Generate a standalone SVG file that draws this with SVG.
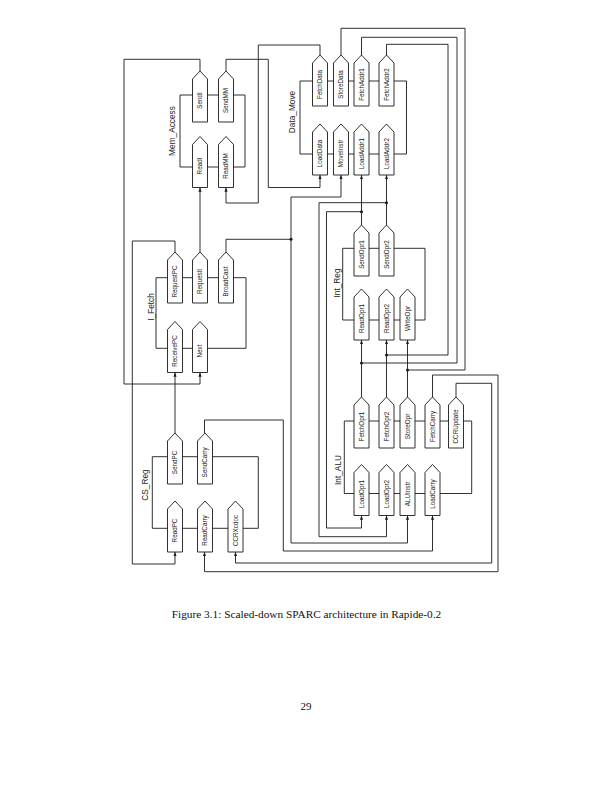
<svg xmlns="http://www.w3.org/2000/svg" xmlns:xlink="http://www.w3.org/1999/xlink" width="612" height="791" viewBox="0 0 612 791">
<defs>
<style>
.br{fill:none;stroke:#1a1a1a;stroke-width:0.9}
.pt{fill:#fff;stroke:#1a1a1a;stroke-width:0.9}
.pl{font-family:"Liberation Sans",Arial,sans-serif;font-size:6.3px;fill:#1a1a1a;text-anchor:middle}
.gl{font-family:"Liberation Sans",Arial,sans-serif;font-size:8.3px;fill:#1a1a1a;text-anchor:middle}
.cn{fill:none;stroke:#1a1a1a;stroke-width:0.9}
.ar{marker-end:url(#ah)}
.dot{fill:#1a1a1a}
.cap{font-family:"Liberation Serif","Times New Roman",serif;fill:#111;text-anchor:middle}
</style>
<path id="pt" d="M0,8 L7.5,0 L15,8 V51 H0 Z"/>
<marker id="ah" viewBox="0 0 8 6" markerWidth="4.2" markerHeight="3.6" refX="8" refY="3" orient="auto" markerUnits="userSpaceOnUse">
<path d="M0,0 L8,3 L0,6 Z" fill="#1a1a1a"/>
</marker>
</defs>
<rect width="612" height="791" fill="#fff"/>

<g id="connectors">
<polyline class="cn ar" points="200,71 200,59.3 124,59.3 124,384 200,384 200,372.5"/>
<polyline class="cn ar" points="226,71 226,59.3 268.3,59.3 268.3,187.5 320,187.5 320,175"/>
<polyline class="cn ar" points="320,55 320,45 258.3,45 258.3,203 226,203 226,187.5"/>
<polyline class="cn ar" points="200,252 200,187.5"/>
<polyline class="cn ar" points="175,252 175,241 132.3,241 132.3,564 175,564 175,552"/>
<polyline class="cn" points="226,252 226,239.3 291,239.3"/>
<polyline class="cn ar" points="291,239.3 291,197 341,197 341,175"/>
<polyline class="cn ar" points="291,239.3 291,543 407.5,543 407.5,515.5"/>
<circle class="dot" cx="291" cy="239.3" r="1.5"/>
<polyline class="cn ar" points="175,433 175,372.5"/>
<polyline class="cn ar" points="204.5,433 204.5,420 283.3,420 283.3,551 432.5,551 432.5,515.5"/>
<polyline class="cn ar" points="361.5,225 361.5,175"/>
<polyline class="cn ar" points="361.5,211.7 326.5,211.7 326.5,528 361.5,528 361.5,515.5"/>
<circle class="dot" cx="361.5" cy="211.7" r="1.5"/>
<polyline class="cn ar" points="386.5,225 386.5,175"/>
<polyline class="cn ar" points="386.5,202.7 319,202.7 319,536.7 386.5,536.7 386.5,515.5"/>
<circle class="dot" cx="386.5" cy="202.7" r="1.5"/>
<polyline class="cn" points="361.5,55 361.5,37.3 457,37.3 457,363 361.5,363"/>
<polyline class="cn ar" points="361.5,397 361.5,340"/>
<circle class="dot" cx="361.5" cy="363" r="1.5"/>
<polyline class="cn" points="386.5,55 386.5,44.3 448,44.3 448,355 386.5,355"/>
<polyline class="cn ar" points="386.5,397 386.5,340"/>
<circle class="dot" cx="386.5" cy="355" r="1.5"/>
<polyline class="cn" points="341,55 341,28.3 465,28.3 465,370 407.5,370"/>
<polyline class="cn ar" points="407.5,397 407.5,340"/>
<circle class="dot" cx="407.5" cy="370" r="1.5"/>
<polyline class="cn ar" points="432.5,397 432.5,375 498,375 498,571.7 204.5,571.7 204.5,552"/>
<polyline class="cn ar" points="456,397 456,383.3 491.7,383.3 491.7,563 235.5,563 235.5,552"/>
</g>

<g id="Mem_Access">
<path class="br" d="M180,95 V167 M245,95 V167 M180,95 H245 M180,167 H245"/>
<text class="gl" transform="translate(175,131) rotate(-90)">Mem_Access</text>
<g id="SendI"><use href="#pt" class="pt" x="192.5" y="71"/><text class="pl" transform="translate(202.2,100.5) rotate(-90)">SendI</text></g>
<g id="SendMM"><use href="#pt" class="pt" x="218.5" y="71"/><text class="pl" transform="translate(228.2,100.5) rotate(-90)">SendMM</text></g>
<g id="ReadI"><use href="#pt" class="pt" x="192.5" y="136.5"/><text class="pl" transform="translate(202.2,166) rotate(-90)">ReadI</text></g>
<g id="ReadMM"><use href="#pt" class="pt" x="218.5" y="136.5"/><text class="pl" transform="translate(228.2,166) rotate(-90)">ReadMM</text></g>
</g>

<g id="Data_Move">
<path class="br" d="M300,81 V154 M406.5,81 V154 M300,81 H406.5 M300,154 H406.5"/>
<text class="gl" transform="translate(295,112) rotate(-90)">Data_Move</text>
<g id="FetchData"><use href="#pt" class="pt" x="312.5" y="55"/><text class="pl" transform="translate(322.2,84.5) rotate(-90)">FetchData</text></g>
<g id="StoreData"><use href="#pt" class="pt" x="333.5" y="55"/><text class="pl" transform="translate(343.2,84.5) rotate(-90)">StoreData</text></g>
<g id="FetchAddr1"><use href="#pt" class="pt" x="354" y="55"/><text class="pl" transform="translate(363.7,84.5) rotate(-90)">FetchAddr1</text></g>
<g id="FetchAddr2"><use href="#pt" class="pt" x="379" y="55"/><text class="pl" transform="translate(388.7,84.5) rotate(-90)">FetchAddr2</text></g>
<g id="LoadData"><use href="#pt" class="pt" x="312.5" y="124"/><text class="pl" transform="translate(322.2,153.5) rotate(-90)">LoadData</text></g>
<g id="MoveInstr"><use href="#pt" class="pt" x="333.5" y="124"/><text class="pl" transform="translate(343.2,153.5) rotate(-90)">MoveInstr</text></g>
<g id="LoadAddr1"><use href="#pt" class="pt" x="354" y="124"/><text class="pl" transform="translate(363.7,153.5) rotate(-90)">LoadAddr1</text></g>
<g id="LoadAddr2"><use href="#pt" class="pt" x="379" y="124"/><text class="pl" transform="translate(388.7,153.5) rotate(-90)">LoadAddr2</text></g>
</g>

<g id="I_Fetch">
<path class="br" d="M156,277.7 V348.3 M246,277.7 V348.3 M156,277.7 H246 M156,348.3 H246"/>
<text class="gl" transform="translate(154,307) rotate(-90)">I_Fetch</text>
<g id="RequestPC"><use href="#pt" class="pt" x="167.5" y="252"/><text class="pl" transform="translate(177.2,281.5) rotate(-90)">RequestPC</text></g>
<g id="RequestI"><use href="#pt" class="pt" x="192.5" y="252"/><text class="pl" transform="translate(202.2,281.5) rotate(-90)">RequestI</text></g>
<g id="BroadCast"><use href="#pt" class="pt" x="218.5" y="252"/><text class="pl" transform="translate(228.2,281.5) rotate(-90)">BroadCast</text></g>
<g id="ReceivePC"><use href="#pt" class="pt" x="167.5" y="321.5"/><text class="pl" transform="translate(177.2,351) rotate(-90)">ReceivePC</text></g>
<g id="Next"><use href="#pt" class="pt" x="192.5" y="321.5"/><text class="pl" transform="translate(202.2,351) rotate(-90)">Next</text></g>
</g>

<g id="Int_Reg">
<path class="br" d="M342.7,248.3 V320 M425,248.3 V320 M342.7,248.3 H425 M342.7,320 H425"/>
<text class="gl" transform="translate(340,283) rotate(-90)">Int_Reg</text>
<g id="SendOpr1"><use href="#pt" class="pt" x="354" y="225"/><text class="pl" transform="translate(363.7,254.5) rotate(-90)">SendOpr1</text></g>
<g id="SendOpr2"><use href="#pt" class="pt" x="379" y="225"/><text class="pl" transform="translate(388.7,254.5) rotate(-90)">SendOpr2</text></g>
<g id="ReadOpr1"><use href="#pt" class="pt" x="354" y="289"/><text class="pl" transform="translate(363.7,318.5) rotate(-90)">ReadOpr1</text></g>
<g id="ReadOpr2"><use href="#pt" class="pt" x="379" y="289"/><text class="pl" transform="translate(388.7,318.5) rotate(-90)">ReadOpr2</text></g>
<g id="WriteOpr"><use href="#pt" class="pt" x="400" y="289"/><text class="pl" transform="translate(409.7,318.5) rotate(-90)">WriteOpr</text></g>
</g>

<g id="Int_ALU">
<path class="br" d="M344.3,421 V493.5 M471.7,421 V493.5 M344.3,421 H471.7 M344.3,493.5 H471.7"/>
<text class="gl" transform="translate(340.5,470) rotate(-90)">Int_ALU</text>
<g id="FetchOpr1"><use href="#pt" class="pt" x="354" y="397"/><text class="pl" transform="translate(363.7,426.5) rotate(-90)">FetchOpr1</text></g>
<g id="FetchOpr2"><use href="#pt" class="pt" x="379" y="397"/><text class="pl" transform="translate(388.7,426.5) rotate(-90)">FetchOpr2</text></g>
<g id="StoreOpr"><use href="#pt" class="pt" x="400" y="397"/><text class="pl" transform="translate(409.7,426.5) rotate(-90)">StoreOpr</text></g>
<g id="FetchCarry"><use href="#pt" class="pt" x="425" y="397"/><text class="pl" transform="translate(434.7,426.5) rotate(-90)">FetchCarry</text></g>
<g id="CCRUpdate"><use href="#pt" class="pt" x="448.5" y="397"/><text class="pl" transform="translate(458.2,426.5) rotate(-90)">CCRUpdate</text></g>
<g id="LoadOpr1"><use href="#pt" class="pt" x="354" y="464.5"/><text class="pl" transform="translate(363.7,494) rotate(-90)">LoadOpr1</text></g>
<g id="LoadOpr2"><use href="#pt" class="pt" x="379" y="464.5"/><text class="pl" transform="translate(388.7,494) rotate(-90)">LoadOpr2</text></g>
<g id="ALUInstr"><use href="#pt" class="pt" x="400" y="464.5"/><text class="pl" transform="translate(409.7,494) rotate(-90)">ALUInstr</text></g>
<g id="LoadCarry"><use href="#pt" class="pt" x="425" y="464.5"/><text class="pl" transform="translate(434.7,494) rotate(-90)">LoadCarry</text></g>
</g>

<g id="CS_Reg">
<path class="br" d="M152.3,456.7 V528.3 M258.3,456.7 V528.3 M152.3,456.7 H258.3 M152.3,528.3 H258.3"/>
<text class="gl" transform="translate(147.5,485) rotate(-90)">CS_Reg</text>
<g id="SendPC"><use href="#pt" class="pt" x="167.5" y="433"/><text class="pl" transform="translate(177.2,462.5) rotate(-90)">SendPC</text></g>
<g id="SendCarry"><use href="#pt" class="pt" x="197.5" y="433"/><text class="pl" transform="translate(207.2,462.5) rotate(-90)">SendCarry</text></g>
<g id="ReadPC"><use href="#pt" class="pt" x="167.5" y="501"/><text class="pl" transform="translate(177.2,530.5) rotate(-90)">ReadPC</text></g>
<g id="ReadCarry"><use href="#pt" class="pt" x="197.5" y="501"/><text class="pl" transform="translate(207.2,530.5) rotate(-90)">ReadCarry</text></g>
<g id="CCRXcdoc"><use href="#pt" class="pt" x="228" y="501"/><text class="pl" transform="translate(237.7,530.5) rotate(-90)">CCRXcdoc</text></g>
</g>

<text class="cap" x="306.5" y="618" font-size="11.3">Figure 3.1: Scaled-down SPARC architecture in Rapide-0.2</text>
<text class="cap" x="306" y="710" font-size="11">29</text>
</svg>
